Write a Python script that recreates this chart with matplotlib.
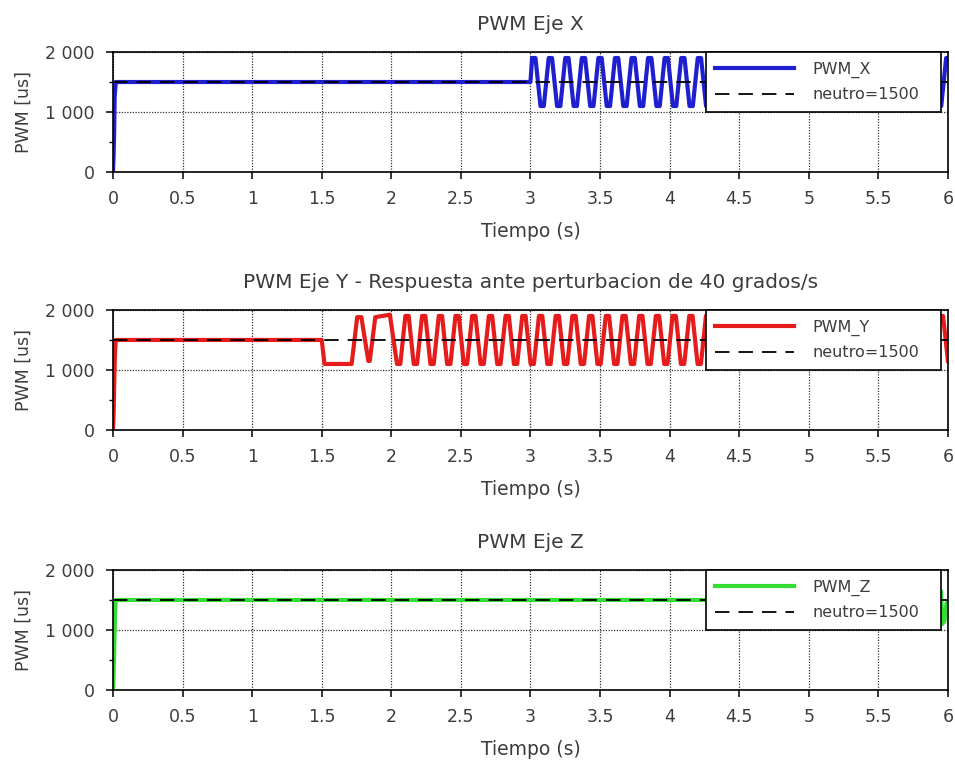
import matplotlib.pyplot as plt
from matplotlib.ticker import MultipleLocator

plt.rcParams['font.family'] = 'DejaVu Sans'
text_color = '#3c3c3c'

# Axis ticks
x_ticks = [0, 0.5, 1, 1.5, 2, 2.5, 3, 3.5, 4, 4.5, 5, 5.5, 6]
x_tick_labels = ['0', '0.5', '1', '1.5', '2', '2.5', '3', '3.5', '4', '4.5', '5', '5.5', '6']
y_ticks = [0, 1000, 2000]
y_tick_labels = ['0', '1 000', '2 000']
neutro = 1500

titles = ['PWM Eje X',
          'PWM Eje Y - Respuesta ante perturbacion de 40 grados/s',
          'PWM Eje Z']
labels = ['PWM_X', 'PWM_Y', 'PWM_Z']
colors = ['#1f1fd0', '#e61c1c', '#33dd33']

# PWM X (turning points of the oscillation)
x_t = [0.0, 0.004, 0.008, 0.012, 0.02, 3.0,
       3.012, 3.036, 3.072, 3.096,  # 0
       3.131, 3.155, 3.191, 3.215,  # 1
       3.250, 3.274, 3.310, 3.334,  # 2
       3.369, 3.393, 3.429, 3.453,  # 3
       3.488, 3.512, 3.548, 3.572,  # 4
       3.607, 3.631, 3.667, 3.691,  # 5
       3.726, 3.750, 3.786, 3.810,  # 6
       3.845, 3.869, 3.905, 3.929,  # 7
       3.964, 3.988, 4.024, 4.048,  # 8
       4.083, 4.107, 4.143, 4.167,  # 9
       4.202, 4.226, 4.262, 4.286,  # 10
       4.321, 4.345, 4.381, 4.405,  # 11
       4.440, 4.464, 4.500, 4.524,  # 12
       4.559, 4.583, 4.619, 4.643,  # 13
       4.678, 4.702, 4.738, 4.762,  # 14
       4.797, 4.821, 4.857, 4.881,  # 15
       4.916, 4.940, 4.976, 5.000,  # 16
       5.035, 5.059, 5.095, 5.119,  # 17
       5.154, 5.178, 5.214, 5.238,  # 18
       5.273, 5.297, 5.333, 5.357,  # 19
       5.392, 5.416, 5.452, 5.476,  # 20
       5.511, 5.535, 5.571, 5.595,  # 21
       5.630, 5.654, 5.690, 5.714,  # 22
       5.749, 5.773, 5.809, 5.833,  # 23
       5.868, 5.892, 5.928, 5.952,  # 24
       5.987, 6.0]
x_v = [0, 250, 600, 1250, 1500, 1500,
       1900, 1900, 1100, 1100,  # 0
       1900, 1900, 1100, 1100,  # 1
       1900, 1900, 1100, 1100,  # 2
       1900, 1900, 1100, 1100,  # 3
       1900, 1900, 1100, 1100,  # 4
       1900, 1900, 1100, 1100,  # 5
       1900, 1900, 1100, 1100,  # 6
       1900, 1900, 1100, 1100,  # 7
       1900, 1900, 1100, 1100,  # 8
       1900, 1900, 1100, 1100,  # 9
       1900, 1900, 1100, 1100,  # 10
       1900, 1900, 1100, 1100,  # 11
       1900, 1900, 1100, 1100,  # 12
       1900, 1900, 1100, 1100,  # 13
       1900, 1900, 1100, 1100,  # 14
       1900, 1900, 1100, 1100,  # 15
       1900, 1900, 1100, 1100,  # 16
       1900, 1900, 1100, 1100,  # 17
       1900, 1900, 1100, 1100,  # 18
       1900, 1900, 1100, 1100,  # 19
       1900, 1900, 1100, 1100,  # 20
       1900, 1900, 1100, 1100,  # 21
       1900, 1900, 1100, 1100,  # 22
       1900, 1900, 1100, 1100,  # 23
       1900, 1900, 1100, 1100,  # 24
       1900, 1900]

# PWM Y
y_t = [0.0, 0.005, 0.01, 0.015, 0.02, 1.5, 1.51, 1.52,
       1.715, 1.755, 1.785, 1.835, 1.845, 1.885, 1.99,
       2.041, 2.065, 2.101, 2.125,  # 0
       2.161, 2.185, 2.221, 2.245,  # 1
       2.281, 2.305, 2.341, 2.365,  # 2
       2.401, 2.425, 2.461, 2.485,  # 3
       2.521, 2.545, 2.581, 2.605,  # 4
       2.641, 2.665, 2.701, 2.725,  # 5
       2.761, 2.785, 2.821, 2.845,  # 6
       2.881, 2.905, 2.941, 2.965,  # 7
       3.001, 3.025, 3.061, 3.085,  # 8
       3.121, 3.145, 3.181, 3.205,  # 9
       3.241, 3.265, 3.301, 3.325,  # 10
       3.361, 3.385, 3.421, 3.445,  # 11
       3.481, 3.505, 3.541, 3.565,  # 12
       3.601, 3.625, 3.661, 3.685,  # 13
       3.721, 3.745, 3.781, 3.805,  # 14
       3.841, 3.865, 3.901, 3.925,  # 15
       3.961, 3.985, 4.021, 4.045,  # 16
       4.081, 4.105, 4.141, 4.165,  # 17
       4.201, 4.225, 4.261, 4.285,  # 18
       4.321, 4.345, 4.381, 4.405,  # 19
       4.441, 4.465, 4.501, 4.525,  # 20
       4.561, 4.585, 4.621, 4.645,  # 21
       4.681, 4.705, 4.741, 4.765,  # 22
       4.801, 4.825, 4.861, 4.885,  # 23
       4.921, 4.945, 4.981, 5.005,  # 24
       5.041, 5.065, 5.101, 5.125,  # 25
       5.161, 5.185, 5.221, 5.245,  # 26
       5.281, 5.305, 5.341, 5.365,  # 27
       5.401, 5.425, 5.461, 5.485,  # 28
       5.521, 5.545, 5.581, 5.605,  # 29
       5.641, 5.665, 5.701, 5.725,  # 30
       5.761, 5.785, 5.821, 5.845,  # 31
       5.881, 5.905, 5.941, 5.965,  # 32
       6.0]
y_v = [0, 300, 900, 1300, 1500, 1500, 1300, 1100,
       1100, 1880, 1880, 1150, 1150, 1880, 1920,
       1100, 1100, 1900, 1900,  # 0
       1100, 1100, 1900, 1900,  # 1
       1100, 1100, 1900, 1900,  # 2
       1100, 1100, 1900, 1900,  # 3
       1100, 1100, 1900, 1900,  # 4
       1100, 1100, 1900, 1900,  # 5
       1100, 1100, 1900, 1900,  # 6
       1100, 1100, 1900, 1900,  # 7
       1100, 1100, 1900, 1900,  # 8
       1100, 1100, 1900, 1900,  # 9
       1100, 1100, 1900, 1900,  # 10
       1100, 1100, 1900, 1900,  # 11
       1100, 1100, 1900, 1900,  # 12
       1100, 1100, 1900, 1900,  # 13
       1100, 1100, 1900, 1900,  # 14
       1100, 1100, 1900, 1900,  # 15
       1100, 1100, 1900, 1900,  # 16
       1100, 1100, 1900, 1900,  # 17
       1100, 1100, 1900, 1900,  # 18
       1100, 1100, 1900, 1900,  # 19
       1100, 1100, 1900, 1900,  # 20
       1100, 1100, 1900, 1900,  # 21
       1100, 1100, 1900, 1900,  # 22
       1100, 1100, 1900, 1900,  # 23
       1100, 1100, 1900, 1900,  # 24
       1100, 1100, 1900, 1900,  # 25
       1100, 1100, 1900, 1900,  # 26
       1100, 1100, 1900, 1900,  # 27
       1100, 1100, 1900, 1900,  # 28
       1100, 1100, 1900, 1900,  # 29
       1100, 1100, 1900, 1900,  # 30
       1100, 1100, 1900, 1900,  # 31
       1100, 1100, 1900, 1900,  # 32
       1150]

# PWM Z
z_t = [0.0, 0.005, 0.01, 0.015, 0.02, 5.94, 5.95, 5.96, 5.975, 5.99, 6.0]
z_v = [0, 300, 800, 1300, 1500, 1500, 1650, 1100, 1150, 1450, 1450]

series = [(x_t, x_v), (y_t, y_v), (z_t, z_v)]

fig = plt.figure(figsize=(9.55, 7.67), dpi=100)
rects = [[0.1183, 0.7757, 0.8743, 0.1565],
         [0.1183, 0.4394, 0.8743, 0.1565],
         [0.1183, 0.1004, 0.8743, 0.1565]]

for rect, (t, v), title, label, color in zip(rects, series, titles, labels, colors):
    ax = fig.add_axes(rect)
    ax.plot(t, v, color=color, lw=3.0, solid_joinstyle='round', label=label, zorder=2)
    ax.axhline(neutro, color='black', lw=1.3, dashes=(8, 5), label='neutro=1500', zorder=3)
    ax.set_xlim(0, 6)
    ax.set_ylim(0, 2000)
    ax.set_xticks(x_ticks)
    ax.set_xticklabels(x_tick_labels)
    ax.set_yticks(y_ticks)
    ax.set_yticklabels(y_tick_labels)
    ax.yaxis.set_minor_locator(MultipleLocator(500))
    ax.tick_params(axis='both', which='major', direction='out', length=5, width=1.1,
                   labelsize=12.5, labelcolor=text_color, pad=8)
    ax.tick_params(axis='y', which='minor', direction='out', length=3, width=1.0)
    ax.grid(True, which='major', color='#333333', linestyle=(0, (1, 1.2)), lw=0.9)
    for s in ax.spines.values():
        s.set_linewidth(1.2)
    ax.set_title(title, fontsize=14.5, color=text_color, pad=16)
    ax.set_xlabel('Tiempo (s)', fontsize=13.5, color=text_color, labelpad=10)
    ax.set_ylabel('PWM [us]', fontsize=12.5, color=text_color, labelpad=9)
    leg = ax.legend(loc='upper left', bbox_to_anchor=(0.710, 0.0, 0.2814, 1.0), mode='expand',
                    borderaxespad=0, fontsize=11.5, handlelength=4.9, handletextpad=1.2,
                    labelspacing=0.6, borderpad=0.6, fancybox=False, framealpha=1,
                    edgecolor='black')
    leg.get_frame().set_linewidth(1.2)
    leg.set_zorder(5)
    for txt in leg.get_texts():
        txt.set_color(text_color)

plt.savefig('out.png', dpi=100)
